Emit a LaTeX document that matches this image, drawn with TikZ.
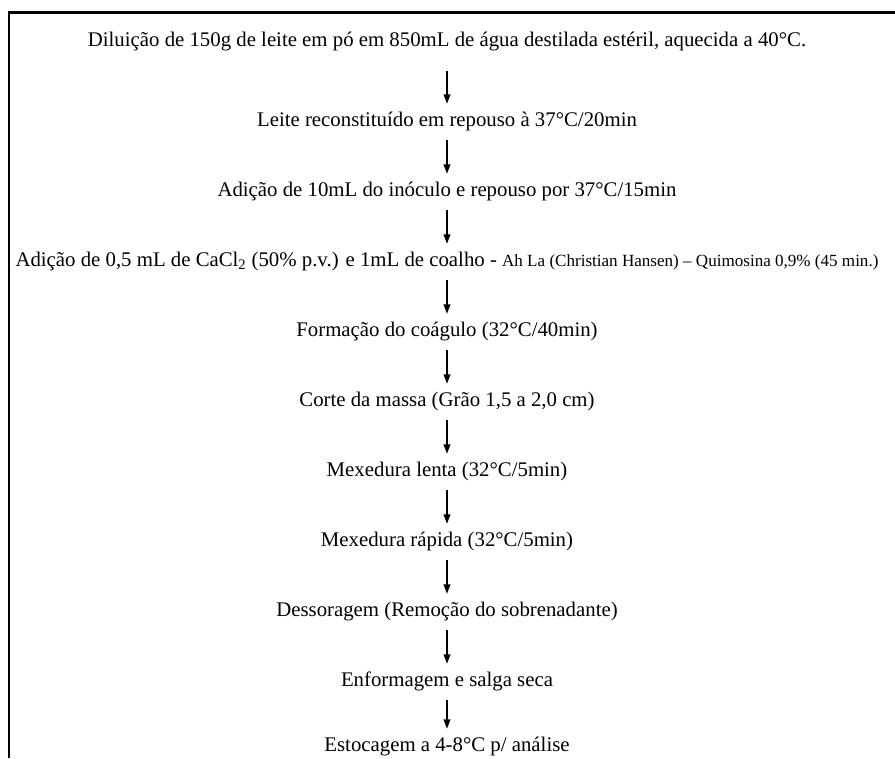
\documentclass[tikz,border=0pt]{standalone}
\usepackage{fontspec}
\setmainfont{Liberation Serif}
\usetikzlibrary{arrows.meta}

\begin{document}
\begin{tikzpicture}[x=0.75pt,y=-0.75pt,
	passo/.style={inner xsep=0pt,inner ysep=7pt,text height=10pt,text depth=3pt,font=\fontsize{15.6}{18}\selectfont},
	seta/.style={-{Triangle[length=7pt,width=5pt]},line width=1.1pt}]
	\useasboundingbox (0,0) rectangle (895,758);
	\draw[line width=2pt] (9,758) -- (9,12.5) -- (895,12.5);

	\node[passo] (dilu) at (447,42) {Diluição de 150g de leite em pó em 850mL de água destilada estéril, aquecida a 40°C.};
	\node[passo] (reconst) at (447,122) {Leite reconstituído em repouso à 37°C/20min};
	\node[passo] (inoculo) at (447,192) {Adição de 10mL do inóculo e repouso por 37°C/15min};
	\node[passo] (coalho) at (447,262) {Adição de 0,5 mL de CaCl\textsubscript{2} (50\% p.v.) e 1mL de coalho - {\fontsize{12.8}{15}\selectfont Ah La (Christian Hansen) -- Quimosina 0,9\% (45 min.)}};
	\node[passo] (coag) at (447,332) {Formação do coágulo (32°C/40min)};
	\node[passo] (corte) at (447,402) {Corte da massa (Grão 1,5 a 2,0 cm)};
	\node[passo] (lenta) at (447,472) {Mexedura lenta (32°C/5min)};
	\node[passo] (rapida) at (447,542) {Mexedura rápida (32°C/5min)};
	\node[passo] (desso) at (447,612) {Dessoragem (Remoção do sobrenadante)};
	\node[passo] (enform) at (447,682) {Enformagem e salga seca};
	\node[passo] (estoc) at (447,747) {Estocagem a 4-8°C p/ análise};

	\draw[seta,shorten <=8pt] (dilu) -- (reconst);
	\foreach \a/\b in {reconst/inoculo,inoculo/coalho,coalho/coag,coag/corte,corte/lenta,lenta/rapida,rapida/desso,desso/enform,enform/estoc}
		\draw[seta] (\a) -- (\b);
\end{tikzpicture}
\end{document}
